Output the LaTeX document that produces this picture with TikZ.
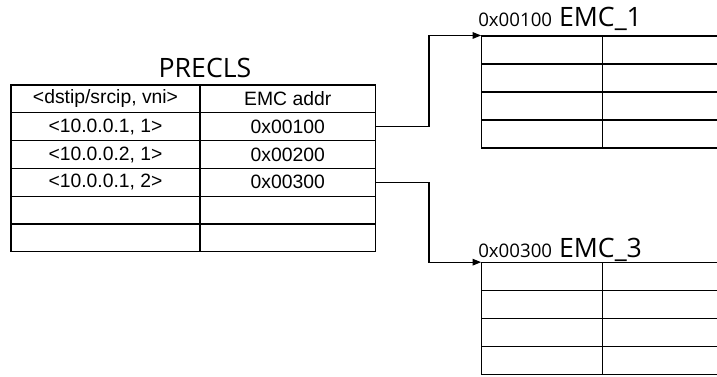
\documentclass[tikz,border=0pt]{standalone}
\usepackage{fontspec}
\setmainfont{Liberation Sans}
\newfontfamily\titlefont{Open Sans}
\usetikzlibrary{arrows.meta}

\tikzset{
  cell/.style={draw,rectangle,thick,inner sep=0pt,minimum height=20.85pt,font=\fontsize{14.5}{17}\selectfont},
  keycell/.style={cell,minimum width=141.75pt},
  addrcell/.style={cell,minimum width=131.6pt},
  slotcell/.style={cell,minimum height=21pt,minimum width=90.45pt},
  datacell/.style={cell,minimum height=21pt,minimum width=103pt},
  title/.style={inner sep=0pt,font=\titlefont\fontsize{20}{24}\selectfont},
  emctitle/.style={inner sep=0pt,anchor=base west,font=\titlefont\fontsize{20}{24}\selectfont}
}

\begin{document}
\begin{tikzpicture}[x=0.75pt,y=-0.75pt,>={Triangle[length=6.5pt,width=5pt]}]
\clip (0,0) rectangle (717,376);

\node [title,anchor=base] (precls) at (205,77.7) {PRECLS};

%left table
\node [keycell] (k0) at (105.5,98.9) {<dstip/srcip, vni>};
\node [addrcell] (a0) at (287.75,98.9) {EMC addr};
\node [keycell] (k1) at (105.5,126.7) {<10.0.0.1, 1>};
\node [addrcell] (a1) at (287.75,126.7) {0x00100};
\node [keycell] (k2) at (105.5,154.5) {<10.0.0.2, 1>};
\node [addrcell] (a2) at (287.75,154.5) {0x00200};
\node [keycell] (k3) at (105.5,182.3) {<10.0.0.1, 2>};
\node [addrcell] (a3) at (287.75,182.3) {0x00300};
\node [keycell] (k4) at (105.5,210.1) {};
\node [addrcell] (a4) at (287.75,210.1) {};
\node [keycell] (k5) at (105.5,237.9) {};
\node [addrcell] (a5) at (287.75,237.9) {};

%EMC_1
\node [emctitle] (emc1) at (478,26) {{\fontsize{14}{16}\selectfont 0x00100} EMC\_1};
\foreach \r/\y in {a/50,b/78,c/106,d/134}{
  \node [slotcell] (e1\r) at (542,\y) {};
  \node [datacell] (f1\r) at (671,\y) {};
}

%EMC_3
\node [emctitle] (emc3) at (478,257.3) {{\fontsize{14}{16}\selectfont 0x00300} EMC\_3};
\foreach \r/\y in {a/276.7,b/304.7,c/332.7,d/360.7}{
  \node [slotcell] (e2\r) at (542,\y) {};
  \node [datacell] (f2\r) at (671,\y) {};
}

\coordinate (bend1) at (429,126.7);
\coordinate (bend2) at (429,182.3);
\draw [->,thick] (a1.east) -- (bend1) |- (e1a.north west);
\draw [->,thick] (a3.east) -- (bend2) |- (e2a.north west);
\end{tikzpicture}
\end{document}
